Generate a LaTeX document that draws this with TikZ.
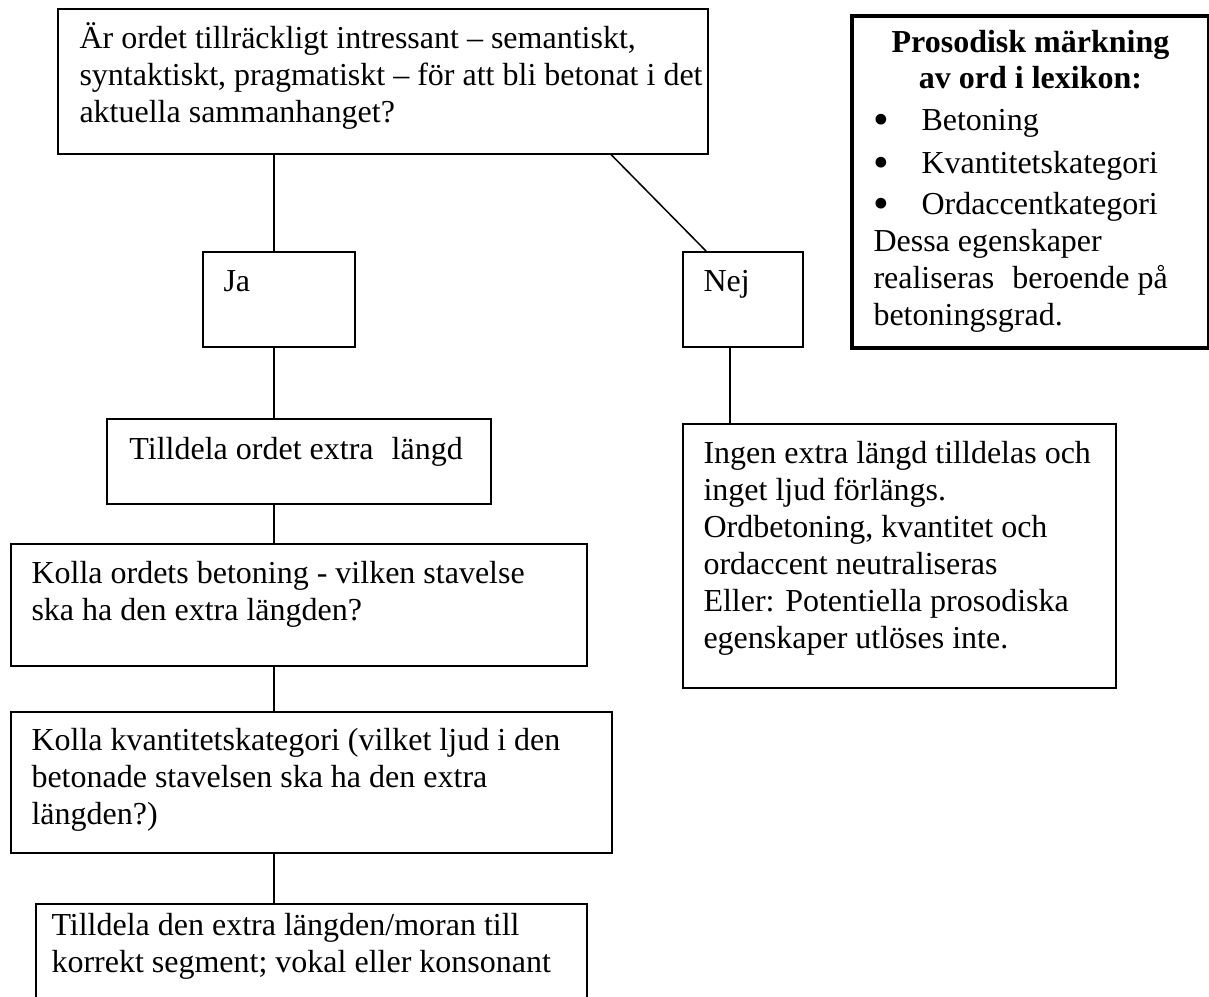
\documentclass[tikz,border=0pt]{standalone}
\usepackage{fontspec}
\setmainfont{Liberation Serif}
\usetikzlibrary{positioning}
\newdimen\pix \pix=0.4pt
\newcommand{\bigbullet}{\raisebox{-1.6pt}{\scalebox{1.4}{\textbullet}}}
\tikzset{
  box/.style={draw, line width=0.6pt, anchor=north west, inner sep=0pt},
  heavybox/.style={box, line width=1.6pt},
  txt/.style={anchor=north west, inner sep=0pt, align=left, font=\fontsize{12.8}{14.8}\selectfont},
  conn/.style={line width=0.6pt},
}

\begin{document}
\begin{tikzpicture}[x=0.4pt, y=-0.4pt]
    \clip (0,0) rectangle (1209,996);
    % --- LEFT COLUMN ---
    \node[box, minimum width=650\pix, minimum height=145\pix] (fraga) at (57,8) {};
    \node[txt, below right=14\pix and 22\pix of fraga.north west] (fragatxt)
        {\strut Är ordet tillräckligt intressant – semantiskt,\\
         syntaktiskt, pragmatiskt – för att bli betonat i det\\
         aktuella sammanhanget?};
    \node[box, minimum width=152\pix, minimum height=95\pix] (ja) at (202,251) {};
    \node[txt, below right=14\pix and 21\pix of ja.north west] (jatxt) {\strut Ja};
    \node[box, minimum width=384\pix, minimum height=85\pix] (tilldela) at (106,418) {};
    \node[txt, below right=15\pix and 23\pix of tilldela.north west] (tilldelatxt)
        {\strut Tilldela ordet extra\hspace{10\pix} längd};
    \node[box, minimum width=576\pix, minimum height=122\pix] (betoning) at (10,543) {};
    \node[txt, below right=14\pix and 21\pix of betoning.north west] (betoningtxt)
        {\strut Kolla ordets betoning - vilken stavelse\\
         ska ha den extra längden?};
    \node[box, minimum width=601\pix, minimum height=141\pix] (kvantitet) at (10,711) {};
    \node[txt, below right=13\pix and 21\pix of kvantitet.north west] (kvantitettxt)
        {\strut Kolla kvantitetskategori (vilket ljud i den\\
         betonade stavelsen ska ha den extra\\
         längden?)};
    \node[box, minimum width=551\pix, minimum height=130\pix] (segment) at (35,903) {};
    \node[txt, below right=6\pix and 16\pix of segment.north west] (segmenttxt)
        {\strut Tilldela den extra längden/moran till\\
         korrekt segment; vokal eller konsonant};

    % --- RIGHT COLUMN ---
    \node[box, minimum width=120\pix, minimum height=95\pix] (nej) at (682,251) {};
    \node[txt, below right=14\pix and 21\pix of nej.north west] (nejtxt) {\strut Nej};
    \node[box, minimum width=433\pix, minimum height=264\pix] (ingen) at (682,423) {};
    \node[txt, below right=14\pix and 21\pix of ingen.north west] (ingentxt)
        {\strut Ingen extra längd tilldelas och\\
         inget ljud förlängs.\\
         Ordbetoning, kvantitet och\\
         ordaccent neutraliseras\\
         Eller: Potentiella prosodiska\\
         egenskaper utlöses inte.};
    \node[heavybox, minimum width=357\pix, minimum height=332\pix] (lexikon) at (850,14) {};
    \node[txt, align=center, font=\fontsize{12.8}{14.4}\selectfont\bfseries,
          below=13\pix of lexikon.north] (lexikonrubrik)
        {\strut Prosodisk märkning\\ av ord i lexikon:};
    \node[txt, below right=90\pix and 23\pix of lexikon.north west] (lexikontxt)
        {\strut\makebox[48\pix][l]{\bigbullet}Betoning\\[6\pix]
         \makebox[48\pix][l]{\bigbullet}Kvantitetskategori\\[4\pix]
         \makebox[48\pix][l]{\bigbullet}Ordaccentkategori\\
         Dessa egenskaper\\
         realiseras\hspace{10\pix} beroende på\\
         betoningsgrad.};

    % --- CONNECTORS ---
    \coordinate (spine) at (274,0);
    \coordinate (nejfork) at (611,0);
    \coordinate (nejspine) at (730,0);
    \draw[conn] (fraga.south -| spine) -- (ja.north -| spine);
    \draw[conn] (ja.south -| spine) -- (tilldela.north -| spine);
    \draw[conn] (tilldela.south -| spine) -- (betoning.north -| spine);
    \draw[conn] (betoning.south -| spine) -- (kvantitet.north -| spine);
    \draw[conn] (kvantitet.south -| spine) -- (segment.north -| spine);
    \draw[conn] (fraga.south -| nejfork) -- ([xshift=24\pix]nej.north west);
    \draw[conn] (nej.south -| nejspine) -- (ingen.north -| nejspine);
\end{tikzpicture}
\end{document}
